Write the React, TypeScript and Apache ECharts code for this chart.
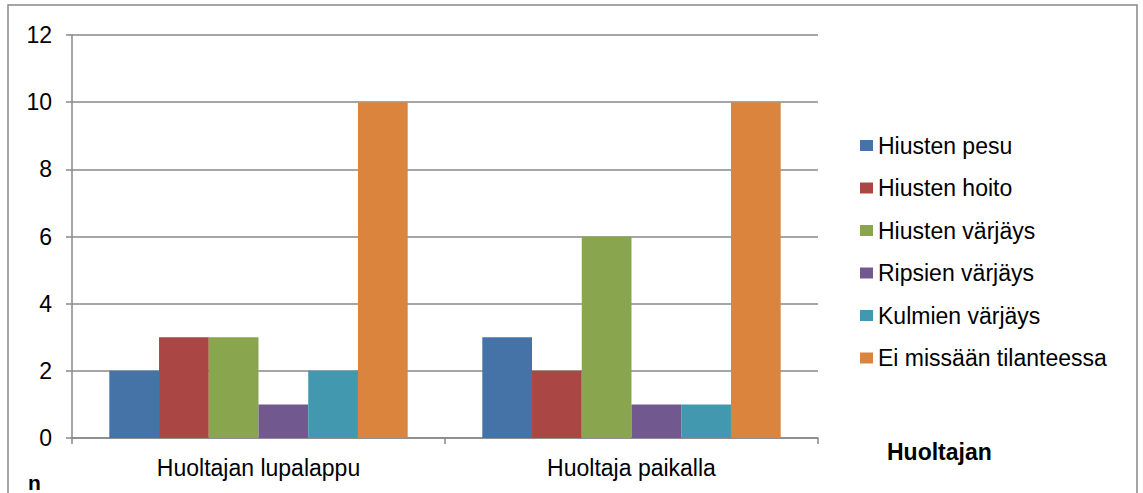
import React, { useEffect, useRef } from "react";
import * as echarts from "echarts";

const categories = ["Huoltajan lupalappu", "Huoltaja paikalla"];
const seriesNames = [
  "Hiusten pesu",
  "Hiusten hoito",
  "Hiusten värjäys",
  "Ripsien värjäys",
  "Kulmien värjäys",
  "Ei missään tilanteessa",
];
const hiustenPesu = [2, 3];
const hiustenHoito = [3, 2];
const hiustenVarjays = [3, 6];
const ripsienVarjays = [1, 1];
const kulmienVarjays = [2, 1];
const eiMissaan = [10, 10];
const seriesValues = [hiustenPesu, hiustenHoito, hiustenVarjays, ripsienVarjays, kulmienVarjays, eiMissaan];
const colors = ["#4572A7", "#AA4643", "#89A54E", "#71588F", "#4198AF", "#DB843D"];

export default function App() {
  const ref = useRef<HTMLDivElement>(null);
  useEffect(() => {
    document.body.style.margin = "0";
    const chart = echarts.init(ref.current!, null, { renderer: "svg" });
    const font = "'Liberation Sans', Arial, sans-serif";
    chart.setOption({
      animation: false,
      backgroundColor: "#ffffff",
      textStyle: { fontFamily: font },
      grid: { left: 72, right: 325, top: 35, bottom: 55 },
      legend: {
        orient: "vertical",
        left: 855,
        top: 129,
        itemWidth: 13,
        itemHeight: 11,
        itemGap: 19.5,
        icon: "rect",
        textStyle: { fontSize: 23, color: "#000", fontFamily: font },
        data: seriesNames,
      },
      xAxis: {
        type: "category",
        data: categories,
        axisLine: { show: true, lineStyle: { color: "#888888", width: 1.5 } },
        axisTick: { show: true, length: 6, lineStyle: { color: "#888888", width: 1.5 } },
        axisLabel: { fontSize: 23, color: "#000", margin: 18, fontFamily: font },
      },
      yAxis: {
        type: "value",
        min: 0,
        max: 12,
        interval: 2,
        axisLine: { show: true, lineStyle: { color: "#888888", width: 1.5 } },
        axisTick: { show: true, length: 6, lineStyle: { color: "#888888", width: 1.5 } },
        splitLine: { show: true, lineStyle: { color: "#888888", width: 1.5 } },
        axisLabel: { fontSize: 23, color: "#000", margin: 20, fontFamily: font },
      },
      series: seriesNames.map((name, i) => ({
        name,
        type: "bar",
        data: seriesValues[i],
        barGap: "0%",
        barCategoryGap: "20%",
        itemStyle: { color: colors[i] },
      })),
      graphic: [
        {
          type: "rect",
          shape: { x: 8, y: 5, width: 1129, height: 500 },
          style: { fill: "none", stroke: "#888888", lineWidth: 1.5 },
          silent: true,
        },
        {
          type: "text",
          left: 887,
          top: 440,
          style: { text: "Huoltajan", font: `bold 23px ${font}`, fill: "#000" },
        },
        {
          type: "text",
          left: 28,
          top: 472,
          style: { text: "n", font: `bold 21px ${font}`, fill: "#000" },
        },
      ],
    });
    return () => chart.dispose();
  }, []);
  return <div ref={ref} style={{ width: 1143, height: 493 }} />;
}
